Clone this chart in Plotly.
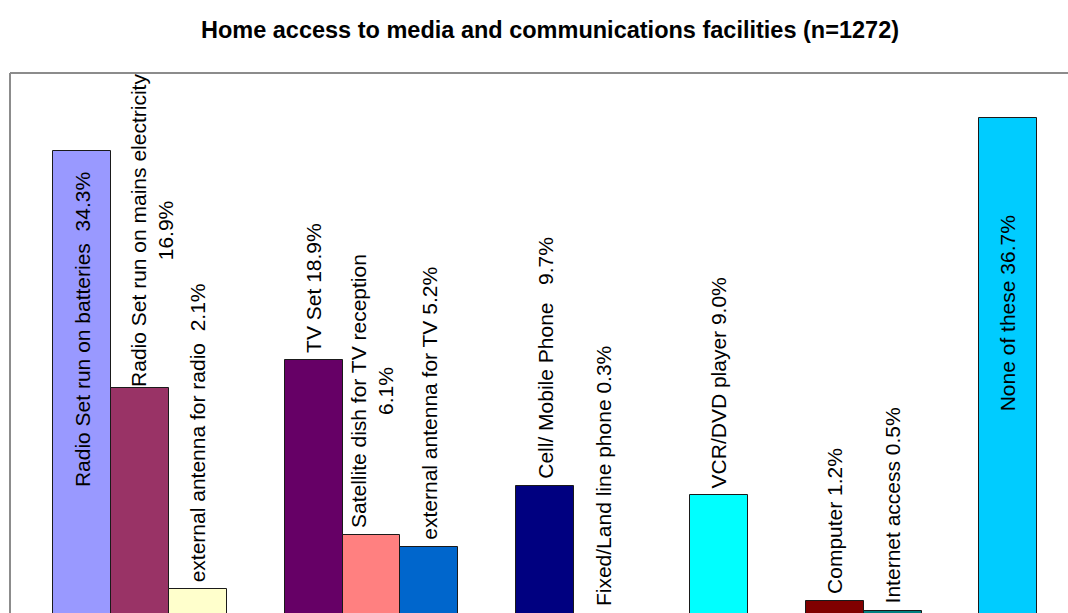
import plotly.graph_objects as go

# Survey results: share of households with each facility (%)
labels = [
    "Radio Set run on batteries\u00a0\u00a034.3%",
    "Radio Set run on mains electricity<br>16.9%",
    "external antenna for radio\u00a0\u00a02.1%",
    "TV Set 18.9%",
    "Satellite dish for TV reception<br>6.1%",
    "external antenna for TV 5.2%",
    "Cell/ Mobile Phone\u00a0\u00a0\u00a09.7%",
    "Fixed/Land line phone 0.3%",
    "VCR/DVD player 9.0%",
    "Computer 1.2%",
    "Internet access 0.5%",
    "None of these 36.7%",
]
values = [34.3, 16.9, 2.1, 18.9, 6.1, 5.2, 9.7, 0.3, 9.0, 1.2, 0.5, 36.7]
groups = [0, 0, 0, 1, 1, 1, 2, 2, 3, 4, 4, 5]  # radio, TV, phone, video, computer, none

colors = ["#9999FF", "#993366", "#FFFFCC", "#660066", "#FF8080", "#0066CC",
          "#000080", "#FF00FF", "#00FFFF", "#800000", "#008080", "#00CCFF"]

# bars sit side by side inside a group, one empty slot between groups
xpos = []
slot = 0
for i, g in enumerate(groups):
    if i > 0 and g != groups[i - 1]:
        slot += 1
    xpos.append(slot)
    slot += 1

# the value axis starts a little below the visible window
y_bottom, y_top = 0.34, 40

fig = go.Figure(go.Bar(
    x=xpos, y=values, width=1,
    marker=dict(color=colors, line=dict(color="#1a1a1a", width=1)),
    hoverinfo="skip",
))

label_font = dict(family="Liberation Sans, Arial, sans-serif", size=21, color="#000000")
inside = {0: -20, 11: -95}   # labels drawn inside the tallest bars (offset from bar top)
xshift = {1: 12}
yshift = {1: -1}

for i, (x, v, t) in enumerate(zip(xpos, values, labels)):
    if i in inside:
        fig.add_annotation(x=x, y=v, text=t, textangle=-90, showarrow=False,
                           xanchor="center", yanchor="top", yshift=inside[i],
                           font=label_font)
    else:
        # keep the anchor inside the axis range so very short bars keep their label
        fig.add_annotation(x=x, y=max(v, y_bottom), text=t, textangle=-90, showarrow=False,
                           xanchor="center", yanchor="bottom",
                           xshift=xshift.get(i, 0), yshift=yshift.get(i, 5),
                           font=label_font)

# plot-area frame (left and top edges)
frame = dict(color="#8c8c8c", width=2)
fig.add_shape(type="line", xref="paper", yref="paper", x0=0, x1=0, y0=0, y1=1, line=frame)
fig.add_shape(type="line", xref="paper", yref="paper", x0=0, x1=1, y0=1, y1=1, line=frame)

fig.update_layout(
    width=1068, height=613,
    margin=dict(l=10, r=0, t=73, b=0),
    paper_bgcolor="white", plot_bgcolor="white",
    showlegend=False, bargap=0,
    title=dict(
        text="<b>Home access to media and communications facilities (n=1272)</b>",
        x=550 / 1068, xanchor="center", xref="container",
        y=1 - 30 / 613, yanchor="middle", yref="container",
        font=dict(family="Liberation Sans, Arial, sans-serif", size=23.5, color="#000000"),
    ),
    xaxis=dict(range=[-1.2435, 17.03], visible=False, fixedrange=True),
    yaxis=dict(range=[y_bottom, y_top], visible=False, fixedrange=True),
)

fig.write_html("out.html")
